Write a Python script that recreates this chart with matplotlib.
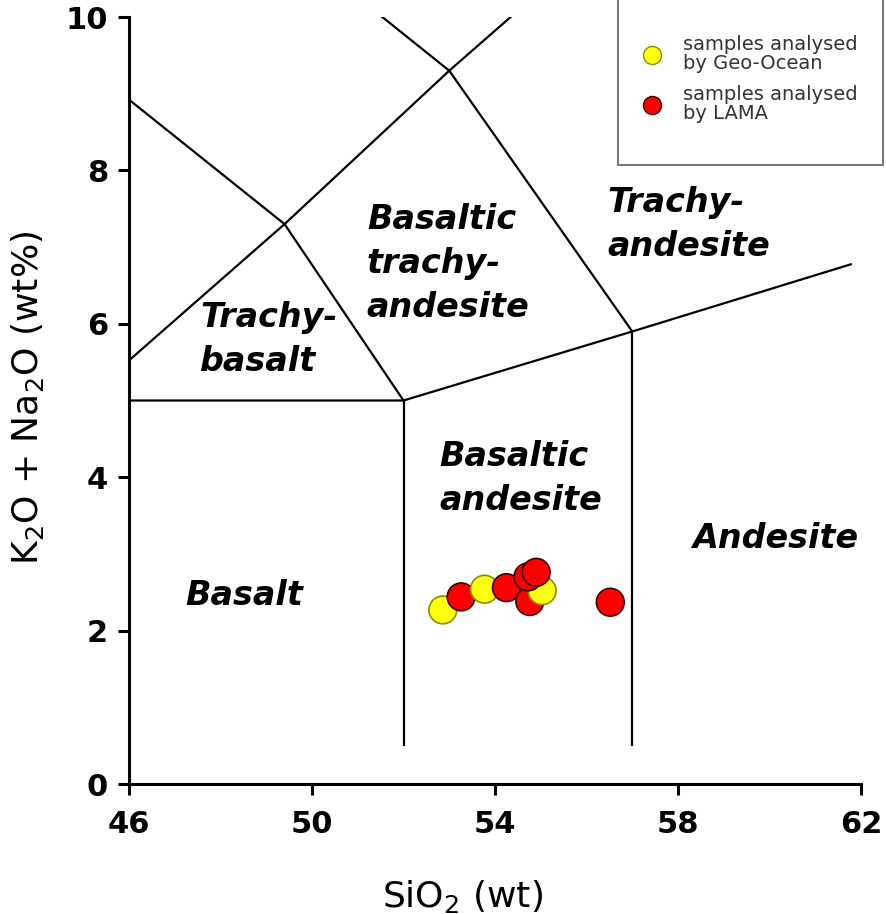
"""TAS diagram (K2O + Na2O vs SiO2) with samples from two labs."""
import matplotlib
matplotlib.use("Agg")
import matplotlib.pyplot as plt
from matplotlib.lines import Line2D
from matplotlib.patches import Rectangle

plt.rcParams["font.family"] = ["DejaVu Sans"]

# samples, listed in drawing order (later ones sit on top)
sio2 = [52.86, 53.26, 53.77, 54.25, 54.76, 55.03, 54.72, 54.90, 56.52]
alkali = [2.27, 2.44, 2.54, 2.56, 2.38, 2.52, 2.70, 2.76, 2.37]
lab = ["Geo-Ocean", "LAMA", "Geo-Ocean", "LAMA", "LAMA", "Geo-Ocean",
       "LAMA", "LAMA", "LAMA"]

# field boundaries (Le Bas et al. 1986), clipped by the axes
boundaries = [
    [(45, 9.4), (49.4, 7.3)],
    [(45, 5.0), (49.4, 7.3), (53, 9.3), (57.6, 11.7)],
    [(48.4, 11.5), (53, 9.3), (57, 5.9)],
    [(49.4, 7.3), (52, 5.0)],
    [(45, 5.0), (52, 5.0), (57, 5.9), (61.8, 6.78)],
    [(52, 0.5), (52, 5.0)],
    [(57, 0.5), (57, 5.9)],
]

field_names = ["Trachy-\nbasalt", "Basaltic\ntrachy-\nandesite",
               "Trachy-\nandesite", "Basaltic\nandesite", "Andesite", "Basalt"]
field_x = [47.55, 51.2, 56.45, 52.78, 58.3, 47.23]
field_y = [5.79, 6.79, 7.3, 3.98, 3.2, 2.46]

xticks = [46, 50, 54, 58, 62]
yticks = [0, 2, 4, 6, 8, 10]

lab_style = {
    "Geo-Ocean": dict(face="#ffff10", edge="#8c8c00",
                      label="samples analysed\nby Geo-Ocean"),
    "LAMA": dict(face="#ff0000", edge="#3a0000",
                 label="samples analysed\nby LAMA"),
}

fig = plt.figure(figsize=(8.86, 9.14), dpi=100)
ax = fig.add_axes([0.1456, 0.1422, 0.8262, 0.8392])

for seg in boundaries:
    xs, ys = zip(*seg)
    ax.plot(xs, ys, color="black", lw=1.6, solid_capstyle="butt", zorder=2)

ax.scatter(sio2, alkali, s=400,
           c=[lab_style[l]["face"] for l in lab],
           edgecolors=[lab_style[l]["edge"] for l in lab],
           linewidths=1.2, zorder=3)

for name, x, y in zip(field_names, field_x, field_y):
    ax.text(x, y, name, fontsize=24, fontweight="bold", fontstyle="italic",
            ha="left", va="center", multialignment="left", linespacing=1.42)

ax.set_xlim(46, 62)
ax.set_ylim(0, 10)
ax.set_xticks(xticks)
ax.set_yticks(yticks)
for side in ("top", "right"):
    ax.spines[side].set_visible(False)
for side in ("left", "bottom"):
    ax.spines[side].set_linewidth(2.2)
ax.tick_params(direction="out", length=8, width=2.2, labelsize=22)
ax.tick_params(axis="x", pad=11)
ax.tick_params(axis="y", pad=7)
for t in ax.get_xticklabels() + ax.get_yticklabels():
    t.set_fontweight("bold")

ax.set_xlabel("SiO$_2$ (wt)", fontsize=26)
ax.xaxis.set_label_coords(0.455, -0.123)
ax.set_ylabel("K$_2$O + Na$_2$O (wt%)", fontsize=26, va="center")
ax.yaxis.set_label_coords(-0.139, 0.503)

# legend box in the top right corner
fig.add_artist(Rectangle((0.6975, 0.8195), 0.299, 0.2, transform=fig.transFigure,
                         facecolor="white", edgecolor="#777777", lw=1.5,
                         zorder=5))
handles = [Line2D([], [], ls="", marker="o", ms=13, mfc=st["face"],
                  mec=st["edge"], mew=1.0) for st in lab_style.values()]
leg = fig.legend(handles, [st["label"] for st in lab_style.values()],
                 loc="upper left", bbox_to_anchor=(0.7136, 0.972),
                 frameon=False, fontsize=14, borderpad=0, handlelength=1.0,
                 handletextpad=1.1, labelspacing=0.62)
leg.set_zorder(6)
for t in leg.get_texts():
    t.set_linespacing(0.98)
    t.set_color("#333333")

fig.savefig("out.png", dpi=100)
